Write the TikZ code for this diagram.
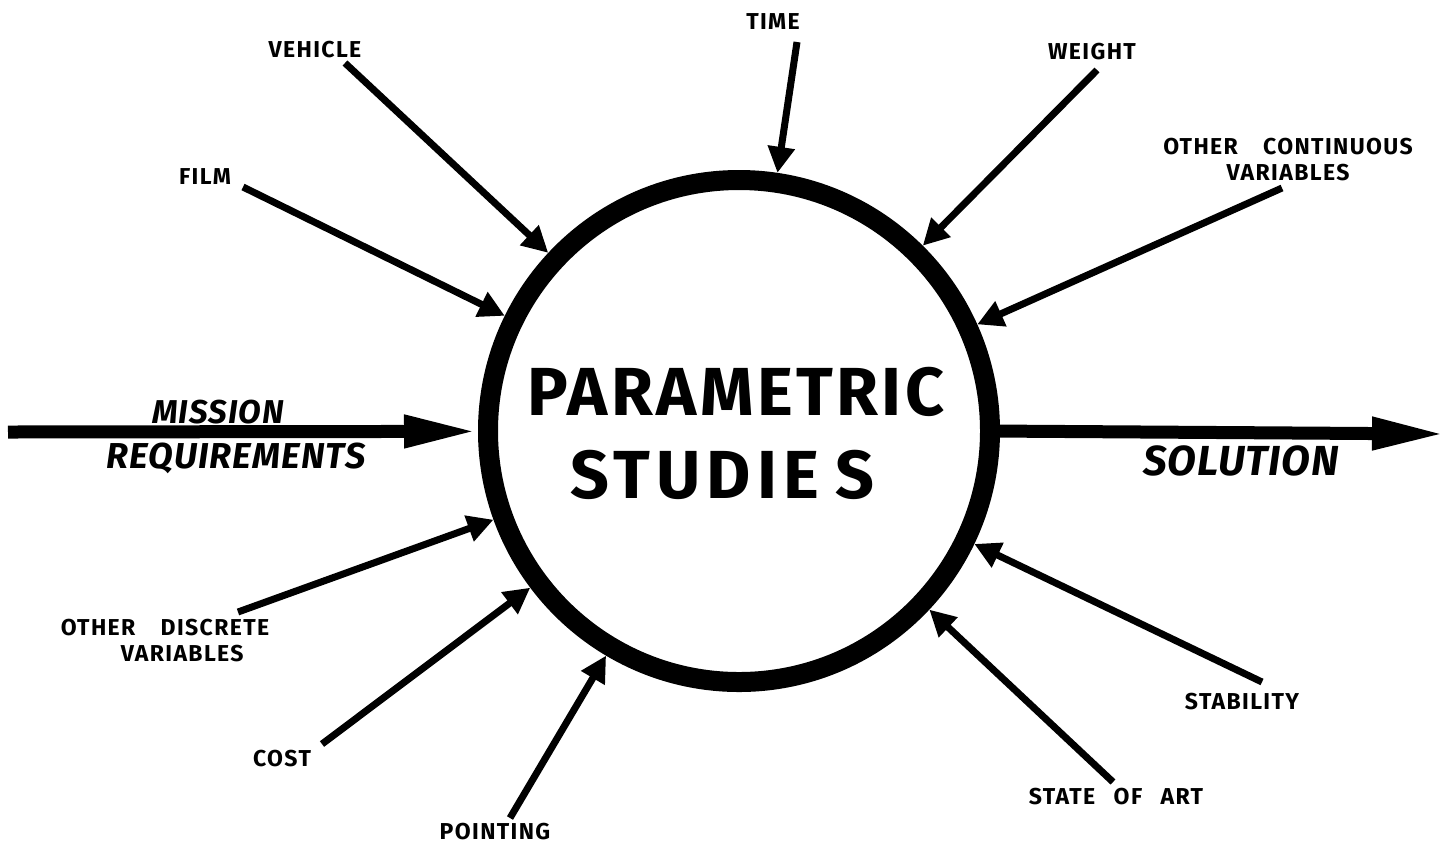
\documentclass[tikz,border=0pt]{standalone}
\usepackage{fontspec}
\setmainfont{Fira Sans}
\usetikzlibrary{arrows.meta}
\begin{document}
\begin{tikzpicture}[x=0.5pt,y=-0.5pt,
  lbl/.style={font=\bfseries\fontsize{11.5}{13}\selectfont\addfontfeatures{LetterSpace=6}, align=center, inner sep=0pt},
  bigit/.style={font=\bfseries\itshape\fontsize{18}{20}\selectfont\addfontfeatures{LetterSpace=3}, inner sep=0pt},
  title/.style={font=\bfseries\fontsize{34}{40}\selectfont\addfontfeatures{LetterSpace=9}, inner sep=0pt},
  thinarrow/.style={line width=3.5pt, -{Triangle[length=13pt,width=13pt]}},
  thickarrow/.style={line width=6.5pt, -{Triangle[length=37pt,width=15pt]}},
  hub/.style={circle, draw, line width=10pt, minimum size=251pt, inner sep=0pt}]
\path[use as bounding box, fill=white] (0,0) rectangle (1456,848);

\node[hub] (c) at (739,431) {};
\node[title, font=\bfseries\fontsize{34}{40}\selectfont\addfontfeatures{LetterSpace=5}] (p1) at (736,392) {PARAMETRIC};
\node[title] (p2) at (722,475) {STUDIE\hspace{8pt}S};

% labels
\node[lbl] (time) at (773,22) {TIME};
\node[lbl] (vehicle) at (315,50) {VEHICLE};
\node[lbl] (weight) at (1092,52) {WEIGHT};
\node[lbl] (film) at (205,177) {FILM};
\node[lbl] (ocont) at (1288,160) {OTHER\hspace{1.1em}CONTINUOUS\\VARIABLES};
\node[lbl] (odisc) at (165,641) {OTHER\hspace{1.1em}DISCRETE\\\hspace{1.5em}VARIABLES};
\node[lbl] (cost) at (282,759) {COST};
\node[lbl] (pointing) at (495,832) {POINTING};
\node[lbl] (stab) at (1242,702) {STABILITY};
\node[lbl] (soa) at (1116,797) {STATE\hspace{0.8em}OF\hspace{0.8em}ART};
\node[bigit, font=\bfseries\itshape\fontsize{16.5}{18}\selectfont\addfontfeatures{LetterSpace=3}] (mission) at (218,412) {MISSION};
\node[bigit] (req) at (236,458) {REQUIREMENTS};
\node[bigit, font=\bfseries\itshape\fontsize{21}{24}\selectfont\addfontfeatures{LetterSpace=2}] (sol) at (1241,461) {SOLUTION};

% tails
\coordinate (tTime) at (797,42);
\coordinate (tVeh) at (345,63);
\coordinate (tWeight) at (1097,70);
\coordinate (tFilm) at (243,187);
\coordinate (tCont) at (1282,188);
\coordinate (tDisc) at (238,612);
\coordinate (tCost) at (322,744);
\coordinate (tPoint) at (510,818);
\coordinate (tStab) at (1262,682);
\coordinate (tSoa) at (1113,782);
\coordinate (tMis) at (8,432);
\coordinate (solEnd) at (1446,434);

\draw[thinarrow] (tTime) -- (c);
\draw[thinarrow] (tVeh) -- (c);
\draw[thinarrow] (tWeight) -- (c);
\draw[thinarrow] (tFilm) -- (c);
\draw[thinarrow] (tCont) -- (c);
\draw[thinarrow] (tDisc) -- (c);
\draw[thinarrow] (tCost) -- (c);
\draw[thinarrow] (tPoint) -- (c);
\draw[thinarrow] (tStab) -- (c);
\draw[thinarrow] (tSoa) -- (c);
\draw[thickarrow] (tMis) -- (c);
\draw[thickarrow] (c.east) ++(-9,0) coordinate (solStart) (solStart) -- (solEnd);
\end{tikzpicture}
\end{document}
